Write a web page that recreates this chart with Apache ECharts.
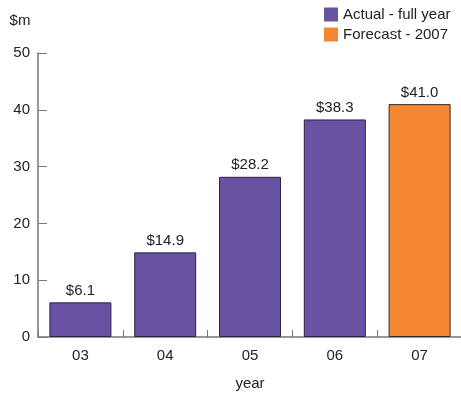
<!DOCTYPE html>
<html>
<head>
<meta charset="utf-8">
<script src="https://cdn.jsdelivr.net/npm/echarts@6/dist/echarts.min.js"></script>
<style>html,body{margin:0;padding:0;background:#fff}#c{width:461px;height:394px}</style>
</head>
<body>
<div id="c"></div>
<script>
var categories = ['03', '04', '05', '06', '07'];
var actualValues = [6.1, 14.9, 28.2, 38.3, '-'];
var forecastValues = ['-', '-', '-', '-', 41.0];
var yTicks = [0, 10, 20, 30, 40, 50];

var font = 'Liberation Sans, Arial, sans-serif';
var fs = 15;
var chart = echarts.init(document.getElementById('c'), null, {renderer: 'canvas'});
var labelCfg = {
  show: true, position: 'top', distance: 4, color: '#222', fontSize: fs, fontFamily: font,
  formatter: function (p) { return '$' + Number(p.value).toFixed(1); }
};
chart.setOption({
  animation: false,
  textStyle: {fontFamily: font},
  legend: {
    left: 319, top: 2, orient: 'vertical', itemWidth: 14, itemHeight: 14, itemGap: 5,
    icon: 'rect', selectedMode: false,
    itemStyle: {borderWidth: 0},
    textStyle: {fontSize: fs, color: '#222', fontFamily: font},
    data: ['Actual - full year', 'Forecast - 2007']
  },
  grid: {left: 38, top: 53, width: 424, height: 284, containLabel: false, outerBoundsMode: 'none'},
  xAxis: {
    type: 'category', data: categories,
    name: 'year', nameLocation: 'middle', nameGap: 39,
    nameTextStyle: {fontSize: fs, color: '#222', fontFamily: font},
    axisLine: {lineStyle: {color: '#777', width: 1.5}},
    axisTick: {show: true, inside: true, length: 7, lineStyle: {color: '#777'}},
    axisLabel: {fontSize: fs, color: '#222', margin: 11, fontFamily: font}
  },
  yAxis: {
    type: 'value', min: yTicks[0], max: yTicks[yTicks.length - 1], interval: 10,
    name: '$m', nameLocation: 'end', nameGap: 25,
    nameTextStyle: {fontSize: fs, color: '#222', fontFamily: font, align: 'center', padding: [0, 36, 0, 0]},
    axisLine: {show: true, lineStyle: {color: '#777', width: 1.5}},
    axisTick: {show: true, inside: true, length: 9, lineStyle: {color: '#777'}},
    axisLabel: {fontSize: fs, color: '#222', margin: 8, fontFamily: font},
    splitLine: {show: false}
  },
  series: [
    {
      name: 'Actual - full year', type: 'bar', stack: 'all', data: actualValues, barWidth: 62,
      itemStyle: {color: '#6852a2', borderColor: '#2b2448', borderWidth: 1},
      label: labelCfg
    },
    {
      name: 'Forecast - 2007', type: 'bar', stack: 'all', data: forecastValues, barWidth: 62,
      itemStyle: {color: '#f58634', borderColor: '#3a2a20', borderWidth: 1},
      label: labelCfg
    }
  ]
});
</script>
</body>
</html>
